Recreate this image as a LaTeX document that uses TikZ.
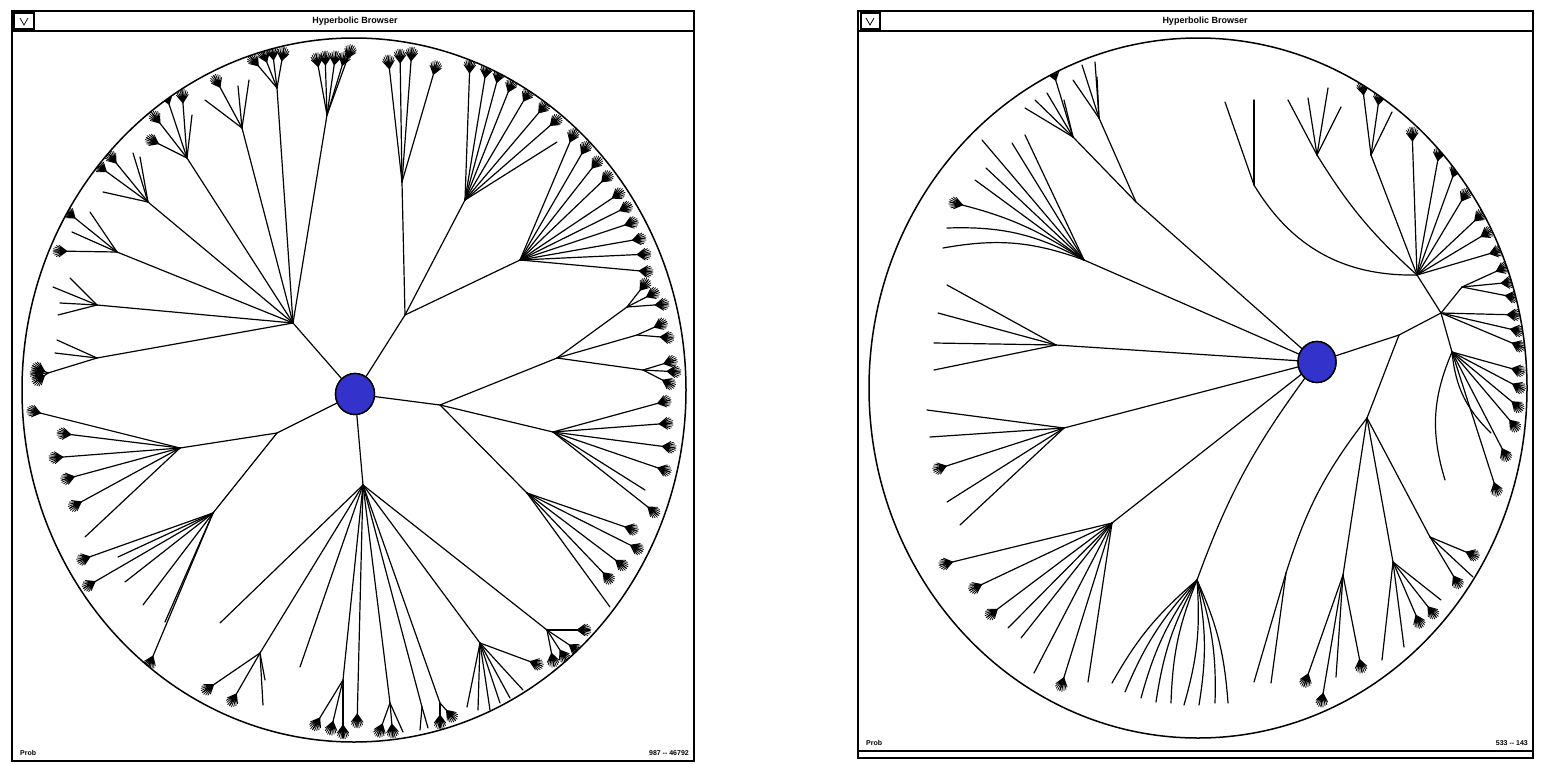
\documentclass[tikz,border=0pt]{standalone}
\usepackage{fontspec}
\setmainfont{Liberation Sans}
\usetikzlibrary{calc, shapes.geometric}

\definecolor{hubblue}{RGB}{51,51,204}

% small dark tuft ending at the tip of a twig
\newcommand{\tuftat}[4]{%
  \draw[tuftline] let \p1=($(#2,#3)-(#1)$), \n1={atan2(\y1,\x1)-(#4)},
    \p2=($(#2,#3)+(\n1+180:13pt)$) in
    \foreach \ta/\tr in {-36/10,-27/12,-18/13,-9/14,0/14,9/14,18/13,27/12,36/10} {(\p2) -- ++(\n1+\ta:\tr pt)};}
% plain twigs and tufted twigs from one branch point
\newcommand{\twigs}[3][0]{\foreach \lx/\ly in {#3} {\draw[twig] (#2) to[bend left=#1] (\lx,\ly);}}
\newcommand{\tufts}[3][0]{\foreach \lx/\ly in {#3} {\draw[twig] (#2) to[bend left=#1] (\lx,\ly); \tuftat{#2}{\lx}{\ly}{#1}}}

\begin{document}
\begin{tikzpicture}[
    x=1pt, y=-1pt,
    twig/.style={line width=1.2pt, line cap=round},
    tuftline/.style={line width=0.8pt, line cap=round},
    rim/.style={line width=1.5pt},
    winframe/.style={line width=2.4pt},
    titlebar/.style={line width=2.6pt},
    hub/.style={ellipse, draw=black, line width=1.4pt, fill=hubblue, inner sep=0pt},
    titletext/.style={font=\fontsize{9}{10}\selectfont\bfseries, inner sep=0pt},
    stattext/.style={font=\fontsize{7}{8}\selectfont\bfseries, inner sep=0pt}
]
\useasboundingbox (0,0) rectangle (1558,763);

% ==========================================
% LEFT WINDOW
% ==========================================
\draw[winframe] (12,11) rectangle (694,761);
\draw[titlebar] (12,31) -- (694,31);
\draw[line width=1.2pt] (14,13) rectangle (34,29);
\draw[line width=0.8pt] (20,18) -- (24,25) -- (28,18);
\node[titletext] (title1) at (355,21) {Hyperbolic Browser};
\node[stattext, anchor=west] (prob1) at (20,753) {Prob};
\node[stattext, anchor=east] (count1) at (689,753) {987 {-}{-} 46792};

% branch points
\coordinate (A) at (293,323);
\coordinate (B1) at (327,115);
\coordinate (B2) at (277,88);
\coordinate (B3) at (242,128);
\coordinate (B4) at (187,158);
\coordinate (B5) at (148,202);
\coordinate (B6) at (117,252);
\coordinate (B7) at (97,305);
\coordinate (B8) at (97,358);
\coordinate (B9) at (48,373);
\coordinate (C) at (405,315);
\coordinate (D1) at (402,182);
\coordinate (D2) at (465,200);
\coordinate (D3) at (520,260);
\coordinate (E0) at (440,405);
\coordinate (E1) at (557,358);
\coordinate (F1) at (627,307);
\coordinate (F2) at (637,335);
\coordinate (F3) at (643,370);
\coordinate (E2) at (553,432);
\coordinate (E3) at (527,493);
\coordinate (G) at (363,485);
\coordinate (G1) at (260,653);
\coordinate (G2) at (343,680);
\coordinate (G3) at (390,703);
\coordinate (G4) at (422,707);
\coordinate (G5) at (440,703);
\coordinate (H) at (480,643);
\coordinate (H2) at (547,630);
\coordinate (K) at (277,433);
\coordinate (K1) at (180,448);
\coordinate (K2) at (213,513);

\node[hub, minimum width=39pt, minimum height=41pt] (root1) at (355,394) {};

\begin{scope}
  \clip (354,390) ellipse [x radius=332pt, y radius=352pt];
  % main limbs
  \draw[twig] (root1) -- (A);
  \foreach \b in {B1,B2,B3,B4,B5,B6,B7,B8} \draw[twig] (A) -- (\b);
  \draw[twig] (B8) -- (B9);
  \draw[twig] (root1) -- (C);
  \foreach \b in {D1,D2,D3} \draw[twig] (C) -- (\b);
  \draw[twig] (root1) -- (E0);
  \foreach \b in {E1,E2,E3} \draw[twig] (E0) -- (\b);
  \foreach \b in {F1,F2,F3} \draw[twig] (E1) -- (\b);
  \draw[twig] (root1) -- (G);
  \foreach \b in {G1,G2,G3,G4,G5,H,H2} \draw[twig] (G) -- (\b);
  \draw[twig] (root1) -- (K);
  \foreach \b in {K1,K2} \draw[twig] (K) -- (\b);

  % leaves
  \tufts{B1}{316/54, 325/52, 336/52, 346/53, 352/46}
  \tufts{B2}{250/56, 262/50, 272/47, 284/48}
  \twigs{B3}{205/100, 238/86, 249/80}
  \tufts{B3}{214/76}
  \tufts{B4}{147/138, 152/113, 165/92, 182/90}
  \twigs{B4}{192/115}
  \tufts{B5}{96/164, 108/153}
  \twigs{B5}{103/192, 133/153, 140/157}
  \tufts{B6}{54/251, 65/210}
  \twigs{B6}{90/212, 72/232}
  \twigs{B7}{58/315, 60/303, 53/287, 70/278}
  \twigs{B8}{55/353, 57/340}
  \tufts{B9}{33/366, 31/374, 34/383}
  \tufts{D1}{388/56, 400/50, 412/48, 437/62}
  \tufts{D2}{470/60, 487/65, 500/70, 513/80, 530/90, 547/103, 560/117}
  \twigs{D2}{557/142}
  \tufts{D3}{575/130, 588/143, 600/158, 611/173, 623/191, 631/205, 637/221, 645/238, 650/254, 652/272}
  \tufts{F1}{648/280, 658/291, 668/304}
  \tufts{F2}{666/322, 673/338}
  \tufts{F3}{676/360, 680/372, 674/386}
  \tufts{E2}{670/400, 672/423, 675/448, 670/472, 658/515}
  \twigs{E2}{645/490}
  \tufts{E3}{637/531, 642/551, 626/568, 612/582}
  \twigs{E3}{610/607}
  \twigs{G}{220/623, 300/667}
  \tufts{G}{357/727}
  \tufts{G1}{203/692, 230/705}
  \twigs{G1}{263/705, 265/680}
  \tufts{G2}{313/729, 330/734, 343/738}
  \tufts{G3}{378/736, 393/737}
  \twigs{G3}{403/732}
  \twigs{G4}{420/730, 428/728}
  \tufts{G5}{440/728, 455/720}
  \twigs{H}{467/707, 478/710, 490/710, 500/703, 510/698, 523/690}
  \tufts{H}{542/666}
  \tufts{H2}{554/666, 567/661, 580/652, 590/630}
  \tufts{K1}{28/410, 58/433, 50/458, 62/480, 70/508}
  \twigs{K1}{85/537}
  \tufts{K2}{78/561, 84/588, 148/668}
  \twigs{K2}{118/557, 125/582, 143/605, 165/622}
\end{scope}

\draw[rim] (354,390) ellipse [x radius=332pt, y radius=352pt];
\node[hub, minimum width=39pt, minimum height=41pt] at (root1) {};

% ==========================================
% RIGHT WINDOW
% ==========================================
\draw[winframe] (858,11) rectangle (1533,758);
\draw[titlebar] (858,31) -- (1533,31);
\draw[line width=1.2pt] (858,751) -- (1533,751);
\draw[line width=1.2pt] (861,13) rectangle (880,29);
\draw[line width=0.8pt] (866,18) -- (870,25) -- (874,18);
\node[titletext] (title2) at (1205,21) {Hyperbolic Browser};
\node[stattext, anchor=west] (prob2) at (866,743) {Prob};
\node[stattext, anchor=east] (count2) at (1528,743) {533 {-}{-} 143};

% branch points
\coordinate (U) at (1056,345);
\coordinate (W) at (1084,260);
\coordinate (V0) at (1136,202);
\coordinate (V) at (1099,118);
\coordinate (X) at (1073,137);
\coordinate (P1) at (1399,335);
\coordinate (P2) at (1441,313);
\coordinate (P3) at (1417,275);
\coordinate (Y) at (1254,185);
\coordinate (Q2) at (1317,155);
\coordinate (S1) at (1371,155);
\coordinate (P5) at (1462,287);
\coordinate (P4) at (1452,352);
\coordinate (AA) at (1367,418);
\coordinate (AA1) at (1286,573);
\coordinate (AA2) at (1343,575);
\coordinate (AA3) at (1393,562);
\coordinate (AA4) at (1430,537);
\coordinate (S) at (1064,428);
\coordinate (T) at (1112,523);
\coordinate (Z) at (1197,580);

\node[hub, minimum width=38pt, minimum height=41pt] (root2) at (1317,362) {};

\begin{scope}
  \clip (1198,388) ellipse [x radius=329pt, y radius=350pt];
  % main limbs
  \draw[twig] (root2) -- (U);
  \draw[twig] (root2) -- (W);
  \draw[twig] (root2) -- (V0);
  \draw[twig] (V0) -- (V);
  \draw[twig] (V0) -- (X);
  \draw[twig] (root2) -- (P1);
  \draw[twig] (P1) -- (P2);
  \draw[twig] (P2) -- (P3);
  \draw[twig] (P3) to[bend left=30] (Y);
  \draw[twig] (P3) to[bend left=8] (Q2);
  \draw[twig] (P3) -- (S1);
  \draw[twig] (P2) -- (P5);
  \draw[twig] (P2) -- (P4);
  \draw[twig] (P1) -- (AA);
  \draw[twig] (AA) to[bend left=-10] (AA1);
  \draw[twig] (AA) -- (AA2);
  \draw[twig] (AA) -- (AA3);
  \draw[twig] (AA) -- (AA4);
  \draw[twig] (root2) -- (S);
  \draw[twig] (root2) -- (T);
  \draw[twig] (root2) to[bend left=-8] (Z);

  % leaves
  \twigs{U}{934/343, 938/313, 947/285, 934/370}
  \twigs{W}{982/140, 1012/143, 1025/135, 975/180, 986/168}
  \twigs[-15]{W}{947/228, 943/248}
  \tufts[-10]{W}{950/202}
  \twigs{V}{1073/80, 1082/65, 1095/62, 1097/77}
  \twigs{X}{1025/108, 1035/100, 1047/93, 1064/100}
  \tufts{X}{1052/68}
  \twigs{Y}{1225/102, 1254/100}
  \twigs{Q2}{1288/100, 1308/98, 1328/88, 1341/107}
  \tufts{S1}{1362/82, 1380/92}
  \twigs{S1}{1392/112}
  \tufts{P3}{1412/128, 1440/148, 1457/165, 1468/190, 1484/212, 1492/230, 1502/250}
  \tufts{P5}{1508/266, 1514/282, 1518/298}
  \tufts{P2}{1520/315, 1523/332, 1524/348}
  \twigs[-20]{P4}{1445/480, 1491/433}
  \tufts{P4}{1524/372, 1524/390, 1522/410, 1518/430, 1508/460, 1498/495}
  \twigs{AA1}{1254/682, 1271/683}
  \tufts{AA2}{1304/686, 1321/706, 1362/672}
  \twigs{AA2}{1336/677}
  \twigs{AA3}{1382/660, 1404/647, 1441/600}
  \tufts{AA3}{1421/627, 1436/617}
  \tufts{AA4}{1460/587, 1478/557}
  \twigs{AA4}{1473/577}
  \twigs{S}{927/410, 930/437, 947/502, 960/525}
  \tufts{S}{934/470}
  \tufts{T}{940/565, 970/590, 987/617, 1060/690}
  \twigs{T}{1008/628, 1021/638, 1034/673, 1088/682}
  \twigs[-10]{Z}{1112/683, 1125/692, 1141/698, 1156/702, 1171/703}
  \twigs[10]{Z}{1184/705, 1199/705, 1215/703, 1228/703}
\end{scope}

\draw[rim] (1198,388) ellipse [x radius=329pt, y radius=350pt];
\node[hub, minimum width=38pt, minimum height=41pt] at (root2) {};

\end{tikzpicture}
\end{document}
